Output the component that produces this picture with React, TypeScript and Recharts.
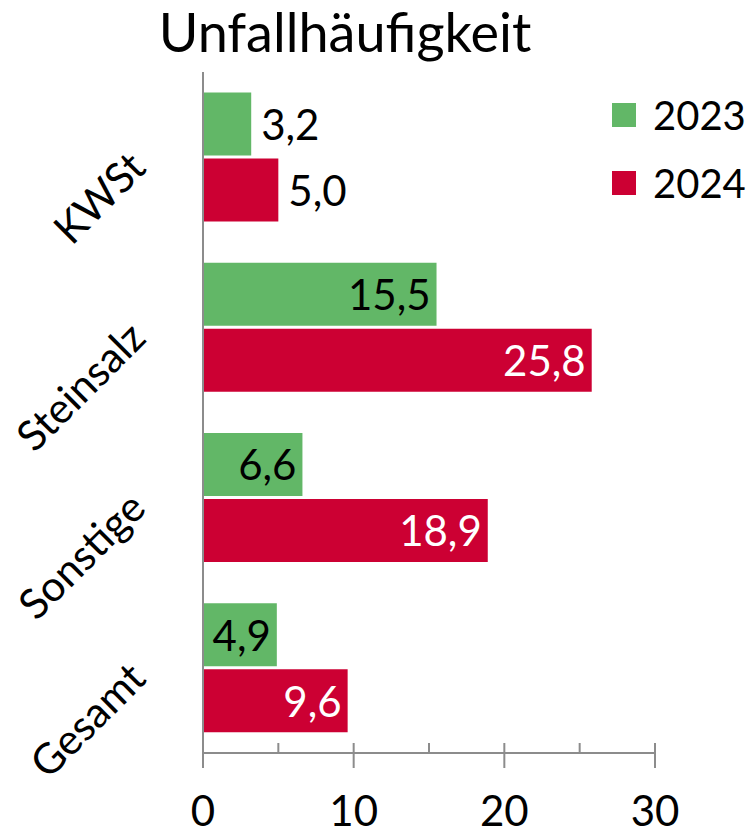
import React from "react";
import {
  BarChart,
  Bar,
  XAxis,
  YAxis,
  LabelList,
} from "recharts";

const categories = ["KWSt", "Steinsalz", "Sonstige", "Gesamt"];
const values2023 = [3.2, 15.5, 6.6, 4.9];
const values2024 = [5.0, 25.8, 18.9, 9.6];
const xTicks = [0, 5, 10, 15, 20, 25, 30];
const seriesNames = ["2023", "2024"];
// categories whose labels sit outside the bar end
const outsideLabels = ["KWSt"];

const data = categories.map((name, i) => ({
  name,
  y2023: values2023[i],
  y2024: values2024[i],
}));

const FONT = "Lato, 'Noto Sans', sans-serif";
const GREEN = "#62b767";
const RED = "#cc0033";
const AXIS = "#8c8c8c";
const seriesColors = [GREEN, RED];

const fmt = (v: number) => v.toFixed(1).replace(".", ",");

const XTick = (props: any) => {
  const { x, y, payload } = props;
  const major = payload.value % 10 === 0;
  return (
    <g>
      <line x1={x} x2={x} y1={y - 10} y2={major ? y + 15 : y} stroke={AXIS} strokeWidth={2} />
      {major && (
        <text x={x} y={y + 73} textAnchor="middle" fontSize={42} fontFamily={FONT} fill="#000">
          {payload.value}
        </text>
      )}
    </g>
  );
};

const YTick = (props: any) => {
  const { x, y, payload } = props;
  const tx = x - 55;
  const ty = y + 13;
  return (
    <text x={tx} y={ty} textAnchor="end" fontSize={42} fontFamily={FONT} fill="#000" transform={`rotate(-45 ${tx} ${ty})`}>
      {payload.value}
    </text>
  );
};

const makeLabel = (insideColor: string) => (props: any) => {
  const { x, y, width, height, value, index } = props;
  const outside = outsideLabels.includes(categories[index]);
  const tx = outside ? x + width + 10 : x + width - 6;
  return (
    <text
      x={tx}
      y={y + height / 2}
      textAnchor={outside ? "start" : "end"}
      dominantBaseline="central"
      fontSize={42}
      fontFamily={FONT}
      fill={outside ? "#000" : insideColor}
    >
      {fmt(value)}
    </text>
  );
};

function App() {
  return (
    <div style={{ position: "absolute", left: 0, top: 0, width: 753, height: 836, background: "#fff" }}>
      <div
        style={{
          position: "absolute",
          left: 145,
          width: 400,
          top: 0,
          textAlign: "center",
          fontFamily: FONT,
          fontSize: 54,
          lineHeight: "64px",
        }}
      >
        Unfallhäufigkeit
      </div>
      <div style={{ position: "absolute", left: 612, top: 81, fontFamily: FONT, fontSize: 40, zIndex: 2 }}>
        {seriesNames.map((label, i) => (
          <div key={label} style={{ display: "flex", alignItems: "center", height: 68 }}>
            <span style={{ width: 24, height: 24, background: seriesColors[i], marginRight: 17, display: "inline-block" }} />
            <span>{label}</span>
          </div>
        ))}
      </div>
      <BarChart
        width={753}
        height={836}
        data={data}
        layout="vertical"
        margin={{ top: 72, right: 98, bottom: 0, left: 0 }}
        barCategoryGap="12%"
        barGap={3}
      >
        <XAxis
          type="number"
          domain={[0, 30]}
          ticks={xTicks}
          interval={0}
          height={83}
          tickSize={0}
          tickMargin={0}
          tick={<XTick />}
          axisLine={{ stroke: AXIS, strokeWidth: 2 }}
        />
        <YAxis
          type="category"
          dataKey="name"
          width={203}
          tickSize={0}
          tickMargin={0}
          tick={<YTick />}
          axisLine={{ stroke: AXIS, strokeWidth: 2 }}
        />
        <Bar dataKey="y2023" name={seriesNames[0]} fill={GREEN} isAnimationActive={false}>
          <LabelList dataKey="y2023" content={makeLabel("#000")} />
        </Bar>
        <Bar dataKey="y2024" name={seriesNames[1]} fill={RED} isAnimationActive={false}>
          <LabelList dataKey="y2024" content={makeLabel("#fff")} />
        </Bar>
      </BarChart>
    </div>
  );
}

export default App;
